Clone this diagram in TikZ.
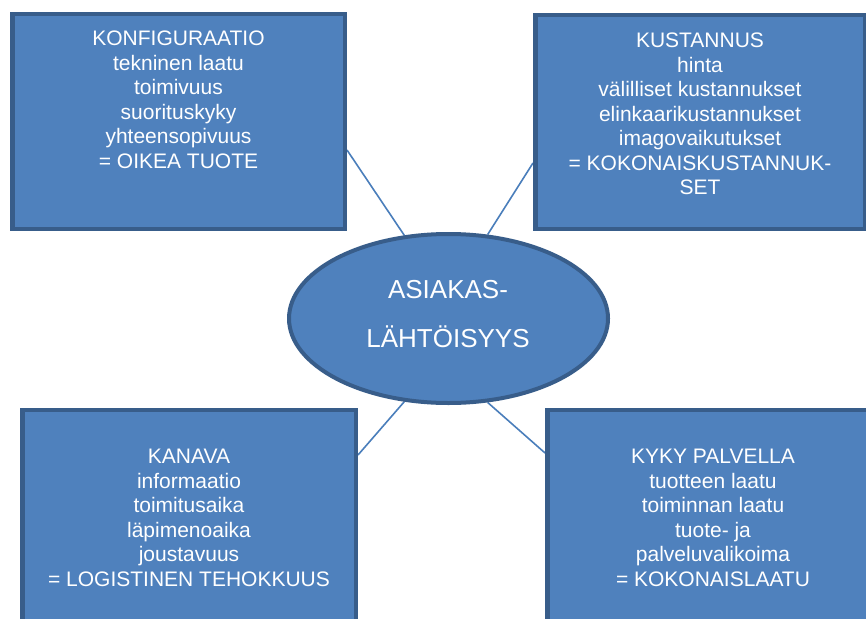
\documentclass[tikz,border=0pt]{standalone}
\usepackage{fontspec}
\setmainfont{Liberation Sans}
\usetikzlibrary{shapes.geometric,backgrounds,calc}
\definecolor{boxfill}{HTML}{4F81BD}
\definecolor{boxline}{HTML}{385D8A}
\definecolor{connline}{HTML}{4A7EBB}
\begin{document}
\begin{tikzpicture}[x=1pt,y=-1pt,
  panel/.style={draw=boxline, fill=boxfill, line width=4.5pt, rectangle, inner sep=0pt, anchor=center},
  hub/.style={draw=boxline, fill=boxfill, line width=4pt, ellipse, inner sep=0pt},
  paneltext/.style={text=white, align=center, inner sep=0pt, anchor=north, font=\fontsize{21}{24.5}\selectfont},
  hubtext/.style={text=white, align=center, inner sep=0pt, anchor=north, font=\fontsize{26}{49}\selectfont},
  conn/.style={draw=connline, line width=1.6pt}]
\useasboundingbox (0,0) rectangle (866,618);
\clip (0,0) rectangle (866,618);

\node[panel, minimum width=332.5pt, minimum height=214.5pt] (tl) at (178.5,121.5) {};
\node[panel, minimum width=329.5pt, minimum height=213.5pt] (tr) at (700,122) {};
\node[panel, minimum width=333.5pt, minimum height=229.75pt] (bl) at (189,525.1) {};
\node[panel, minimum width=331.5pt, minimum height=229.75pt] (br) at (713,525.1) {};
\node[hub, minimum width=319pt, minimum height=169pt] (hub) at (448.5,318.5) {};

\node[paneltext] (tlt) at (178.5,31) {KONFIGURAATIO\\tekninen laatu\\toimivuus\\suorituskyky\\yhteensopivuus\\= OIKEA TUOTE};
\node[paneltext] (trt) at (700,33) {KUSTANNUS\\hinta\\välilliset kustannukset\\elinkaarikustannukset\\imagovaikutukset\\= KOKONAISKUSTANNUK-\\SET};
\node[paneltext] (blt) at (189,449) {KANAVA\\informaatio\\toimitusaika\\läpimenoaika\\joustavuus\\= LOGISTINEN TEHOKKUUS};
\node[paneltext] (brt) at (713,449) {KYKY PALVELLA\\tuotteen laatu\\toiminnan laatu\\tuote- ja\\palveluvalikoima\\= KOKONAISLAATU};
\node[hubtext] (hubt) at (448,280) {ASIAKAS-\\LÄHTÖISYYS};

\begin{pgfonlayer}{background}
\fill[white] (0,0) rectangle (866,618);
\draw[conn] ($(tl.north east)+(0,138)$) -- (hub.118);
\draw[conn] ($(tr.north west)+(0,150)$) -- (hub.65);
\draw[conn] ($(bl.north east)+(0,47)$) -- (hub.242);
\draw[conn] ($(br.north west)+(0,45)$) -- (hub.295);
\end{pgfonlayer}
\end{tikzpicture}
\end{document}
